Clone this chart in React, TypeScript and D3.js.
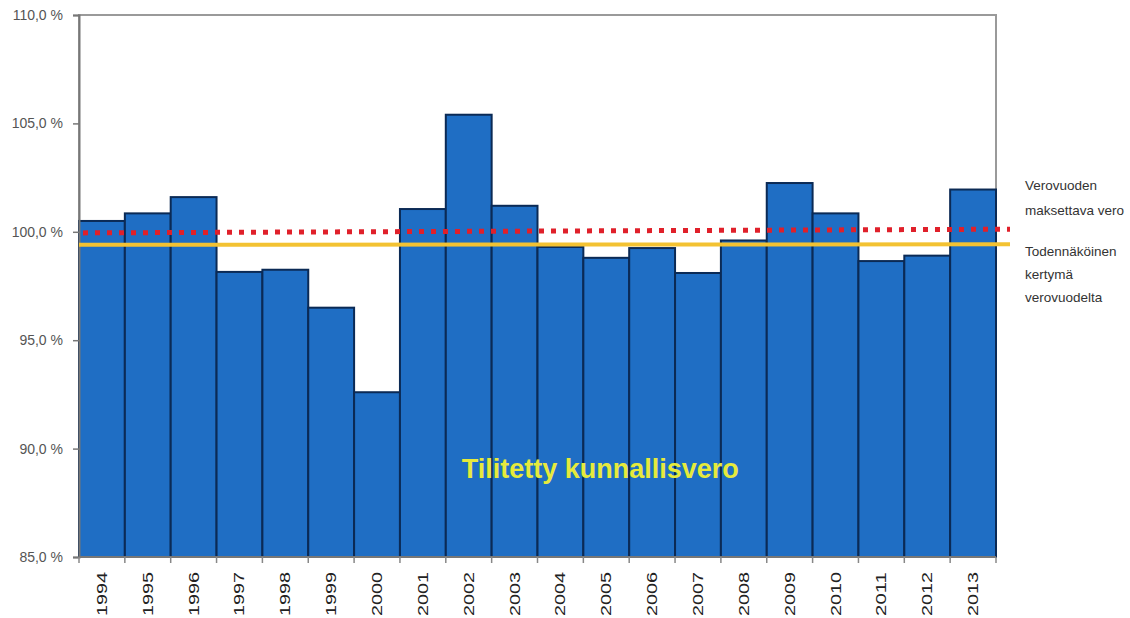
import React, { useEffect, useRef } from 'react';
import * as d3 from 'd3';

// Tilitetty kunnallisvero, % of the tax year's payable tax
const years = ['1994', '1995', '1996', '1997', '1998', '1999', '2000', '2001', '2002', '2003',
  '2004', '2005', '2006', '2007', '2008', '2009', '2010', '2011', '2012', '2013'];
const paidShare = [100.5, 100.85, 101.6, 98.15, 98.25, 96.5, 92.6, 101.05, 105.4, 101.2,
  99.3, 98.8, 99.25, 98.1, 99.6, 102.25, 100.85, 98.65, 98.9, 101.95];
const yTicks = [85, 90, 95, 100, 105, 110];
// reference lines: value at left end, value at right end
const payableLine = [99.95, 100.12];
const expectedLine = [99.4, 99.42];
const payableLabel = ['Verovuoden', 'maksettava vero'];
const expectedLabel = ['Todennäköinen', 'kertymä', 'verovuodelta'];

const width = 1130;
const height = 618;
const margin = { top: 15, right: 134, bottom: 61, left: 79 };
const font = '"Liberation Sans", Arial, sans-serif';

const App = () => {
  const ref = useRef<SVGSVGElement>(null);

  useEffect(() => {
    const svg = d3.select(ref.current);
    svg.selectAll('*').remove();

    const x = d3.scaleBand()
      .domain(years)
      .range([margin.left, width - margin.right])
      .padding(0);

    const y = d3.scaleLinear()
      .domain([85, 110])
      .range([height - margin.bottom, margin.top]);

    // frame
    svg.append('rect')
      .attr('x', margin.left)
      .attr('y', margin.top)
      .attr('width', width - margin.left - margin.right)
      .attr('height', height - margin.top - margin.bottom)
      .attr('fill', 'white')
      .attr('stroke', '#9a9a9a')
      .attr('stroke-width', 2);

    // bars
    svg.append('g')
      .selectAll('rect')
      .data(paidShare)
      .enter()
      .append('rect')
      .attr('x', (d, i) => x(years[i]))
      .attr('y', d => y(d))
      .attr('width', x.bandwidth())
      .attr('height', d => y(85) - y(d))
      .attr('fill', '#1f6ec4')
      .attr('stroke', '#0b2a55')
      .attr('stroke-width', 2);

    // y axis
    const yAxis = svg.append('g')
      .attr('transform', `translate(${margin.left},0)`)
      .call(d3.axisLeft(y).tickValues(yTicks).tickSize(6).tickFormat(d => d3.format('.1f')(d).replace('.', ',') + ' %'));
    yAxis.select('.domain').attr('stroke', '#777').attr('stroke-width', 2);
    yAxis.selectAll('.tick line').attr('stroke', '#777').attr('stroke-width', 1.5);
    yAxis.selectAll('.tick text')
      .attr('x', -16)
      .attr('fill', '#555')
      .style('font-family', font)
      .style('font-size', '14px');

    // x axis: ticks on category boundaries
    const xb = svg.append('g');
    xb.append('line')
      .attr('x1', margin.left).attr('x2', width - margin.right)
      .attr('y1', y(85)).attr('y2', y(85))
      .attr('stroke', '#777').attr('stroke-width', 2);
    xb.selectAll('line.tk')
      .data(years.concat(['end']))
      .enter()
      .append('line')
      .attr('class', 'tk')
      .attr('x1', (d, i) => margin.left + i * x.bandwidth())
      .attr('x2', (d, i) => margin.left + i * x.bandwidth())
      .attr('y1', y(85))
      .attr('y2', y(85) + 6)
      .attr('stroke', '#888')
      .attr('stroke-width', 1.5);
    xb.selectAll('text')
      .data(years)
      .enter()
      .append('text')
      .attr('transform', d => `translate(${x(d) + x.bandwidth() / 2 + 5},${y(85) + 15}) rotate(-90)`)
      .attr('text-anchor', 'end')
      .attr('fill', '#222')
      .attr('textLength', 44)
      .attr('lengthAdjust', 'spacingAndGlyphs')
      .style('font-family', font)
      .style('font-size', '15px')
      .text(d => d);

    const lineEnd = width - margin.right + 14;

    // expected accrual line
    svg.append('line')
      .attr('x1', margin.left).attr('x2', lineEnd)
      .attr('y1', y(expectedLine[0])).attr('y2', y(expectedLine[1]))
      .attr('stroke', '#f3c232')
      .attr('stroke-width', 4);

    // payable tax line
    svg.append('line')
      .attr('x1', margin.left + 4).attr('x2', lineEnd)
      .attr('y1', y(payableLine[0])).attr('y2', y(payableLine[1]))
      .attr('stroke', '#e0202a')
      .attr('stroke-width', 5)
      .attr('stroke-dasharray', '5 7');

    // right-side labels
    const lab = svg.append('g')
      .style('font-family', font)
      .style('font-size', '13.5px')
      .attr('fill', '#333');
    lab.selectAll('text.pay')
      .data(payableLabel)
      .enter()
      .append('text')
      .attr('class', 'pay')
      .attr('x', width - margin.right + 29)
      .attr('y', (d, i) => y(101.95) + i * 25)
      .text(d => d);
    lab.selectAll('text.exp')
      .data(expectedLabel)
      .enter()
      .append('text')
      .attr('class', 'exp')
      .attr('x', width - margin.right + 29)
      .attr('y', (d, i) => y(98.9) + i * 23)
      .text(d => d);

    // series title inside bars
    svg.append('text')
      .attr('x', x('2005') + x.bandwidth() / 2 - 6)
      .attr('y', y(88.65))
      .attr('text-anchor', 'middle')
      .attr('fill', '#e6ea3c')
      .style('font-family', font)
      .style('font-weight', 'bold')
      .style('font-size', '27px')
      .text('Tilitetty kunnallisvero');
  }, []);

  return (
    <svg ref={ref} width={width} height={height}
      style={{ position: 'absolute', left: 0, top: 0, display: 'block', background: 'white' }} />
  );
};

export default App;
